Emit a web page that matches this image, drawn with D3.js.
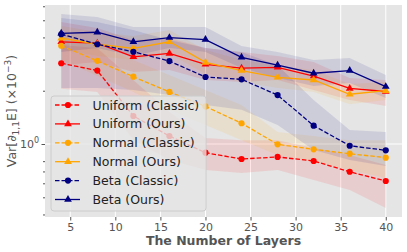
<!DOCTYPE html>
<html><head><meta charset="utf-8">
<script src="https://cdn.jsdelivr.net/npm/d3@7"></script>
<style>body{margin:0;background:#fff}svg{display:block}text{font-family:"DejaVu Sans",sans-serif}</style>
</head><body>
<script>
const layers = [4, 8, 12, 16, 20, 24, 28, 32, 36, 40];
const xTicks = [5, 10, 15, 20, 25, 30, 35, 40];
const uniformClassic = [2.86, 2.60, 1.44, 1.11, 0.893, 0.823, 0.845, 0.802, 0.697, 0.618];
const uniformClassicLo = [2.05, 1.97, 1.05, 0.812, 0.713, 0.686, 0.713, 0.626, 0.550, 0.435];
const uniformClassicHi = [3.63, 3.49, 2.30, 1.52, 1.08, 1.05, 1.05, 0.949, 0.867, 0.761];
const uniformOurs = [3.78, 3.71, 3.11, 3.25, 2.82, 2.68, 2.71, 2.42, 2.06, 1.98];
const uniformOursLo = [2.79, 2.91, 2.55, 2.62, 2.30, 2.24, 2.30, 2.02, 1.77, 1.64];
const uniformOursHi = [4.89, 4.52, 3.87, 3.97, 3.49, 3.31, 3.14, 2.91, 2.36, 2.30];
const normalClassic = [3.59, 2.95, 2.40, 1.97, 1.63, 1.31, 0.996, 0.933, 0.882, 0.837];
const normalClassicLo = [2.98, 2.42, 1.97, 1.56, 1.28, 1.05, 0.867, 0.791, 0.713, 0.642];
const normalClassicHi = [4.29, 3.63, 2.98, 2.45, 2.02, 1.66, 1.17, 1.11, 1.05, 1.05];
const normalOurs = [3.96, 3.66, 3.47, 3.78, 2.89, 2.60, 2.38, 2.30, 1.91, 2.00];
const normalOursLo = [3.40, 3.14, 2.98, 3.22, 2.49, 2.24, 2.07, 1.97, 1.68, 1.77];
const normalOursHi = [4.64, 4.29, 4.08, 4.41, 3.40, 2.98, 2.76, 2.62, 2.18, 2.24];
const betaClassic = [4.17, 3.66, 3.32, 2.94, 2.39, 2.32, 1.89, 1.27, 0.978, 0.921];
const betaClassicLo = [2.07, 2.07, 2.02, 1.89, 1.66, 1.56, 1.28, 0.925, 0.812, 0.751];
const betaClassicHi = [5.15, 4.89, 4.41, 3.87, 3.49, 3.31, 2.79, 1.77, 1.20, 1.17];
const betaOurs = [4.22, 4.28, 3.78, 3.99, 3.89, 3.09, 2.79, 2.51, 2.60, 2.11];
const betaOursLo = [3.31, 3.49, 3.14, 3.49, 3.31, 2.69, 2.36, 2.13, 2.21, 1.82];
const betaOursHi = [5.42, 5.22, 4.58, 4.58, 4.58, 3.58, 3.31, 2.98, 3.06, 2.45];
const seriesNames = ["Uniform (Classic)", "Uniform (Ours)", "Normal (Classic)", "Normal (Ours)", "Beta (Classic)", "Beta (Ours)"];
const seriesColors = ["#ff0000", "#ff0000", "#ffa500", "#ffa500", "#000080", "#000080"];
const seriesDashed = [true, false, true, false, true, false];
const seriesVals = [uniformClassic, uniformOurs, normalClassic, normalOurs, betaClassic, betaOurs];
const seriesLo = [uniformClassicLo, uniformOursLo, normalClassicLo, normalOursLo, betaClassicLo, betaOursLo];
const seriesHi = [uniformClassicHi, uniformOursHi, normalClassicHi, normalOursHi, betaClassicHi, betaOursHi];
const yMinorTicks = [0.4, 0.5, 0.6, 0.7, 0.8, 2, 3, 4, 5, 6];

const W = 407, H = 252;
const L = 45, R = 402, T = 5, B = 217;
const svg = d3.select("body").append("svg").attr("width", W).attr("height", H);
const x = d3.scaleLinear().domain([2.2, 41.8]).range([L, R]);
const y = d3.scaleLog().domain([0.387, 6.099]).range([B, T]);

svg.append("rect").attr("x", L).attr("y", T).attr("width", R - L).attr("height", B - T).attr("fill", "#e5e5e5");

const clip = svg.append("clipPath").attr("id", "clip").append("rect").attr("x", L).attr("y", T).attr("width", R - L).attr("height", B - T);

// grid
const grid = svg.append("g");
grid.selectAll(".vg").data(xTicks).enter().append("line")
  .attr("x1", d => x(d)).attr("x2", d => x(d)).attr("y1", T).attr("y2", B)
  .attr("stroke", "#fff").attr("stroke-width", 1);
grid.append("line").attr("x1", L).attr("x2", R).attr("y1", y(1)).attr("y2", y(1)).attr("stroke", "#fff").attr("stroke-width", 1);

// axes
const xAxis = d3.axisBottom(x).tickValues(xTicks).tickSize(3.5).tickPadding(3).tickFormat(d3.format("d"));
const gx = svg.append("g").attr("transform", `translate(0,${B})`).call(xAxis);
gx.select(".domain").remove();
gx.selectAll("line").attr("stroke", "#555");
gx.selectAll("text").attr("fill", "#555").attr("font-size", 11);

const yAxis = d3.axisLeft(y).tickValues([1]).tickSize(3.5).tickPadding(3).tickFormat(() => "");
const gy = svg.append("g").attr("transform", `translate(${L},0)`).call(yAxis);
gy.select(".domain").remove();
gy.selectAll("line").attr("stroke", "#555");
const yMinor = d3.axisLeft(y).tickValues(yMinorTicks).tickSize(2).tickFormat(() => "");
const gym = svg.append("g").attr("transform", `translate(${L},0)`).call(yMinor);
gym.select(".domain").remove();
gym.selectAll("line").attr("stroke", "#555");
const t0 = svg.append("text").attr("x", L - 6).attr("y", y(1) + 4).attr("text-anchor", "end").attr("fill", "#555").attr("font-size", 11);
t0.append("tspan").text("10");
t0.append("tspan").attr("dy", -5).attr("font-size", 8).text("0");

// bands & lines
const plot = svg.append("g").attr("clip-path", "url(#clip)");
const sym = d3.symbol();
seriesVals.forEach((vals, i) => {
  const c = seriesColors[i];
  const area = d3.area().x((d, j) => x(layers[j])).y0((d, j) => y(seriesLo[i][j])).y1((d, j) => y(seriesHi[i][j]));
  plot.append("path").datum(vals).attr("d", area).attr("fill", c).attr("fill-opacity", 0.1);
});
seriesVals.forEach((vals, i) => {
  const c = seriesColors[i];
  const line = d3.line().x((d, j) => x(layers[j])).y(d => y(d));
  plot.append("path").datum(vals).attr("d", line).attr("fill", "none").attr("stroke", c)
    .attr("stroke-width", 1.3).attr("stroke-dasharray", seriesDashed[i] ? "4.5,2" : null);
  plot.selectAll(null).data(vals).enter().append("path")
    .attr("transform", (d, j) => `translate(${x(layers[j])},${y(d)})`)
    .attr("d", seriesDashed[i] ? sym.type(d3.symbolCircle).size(30)() : sym.type(d3.symbolTriangle).size(26)())
    .attr("fill", c);
});

// legend
const lg = svg.append("g");
lg.append("rect").attr("x", 51).attr("y", 96).attr("width", 155).attr("height", 115).attr("rx", 3)
  .attr("fill", "#e5e5e5").attr("fill-opacity", 0.8).attr("stroke", "#cccccc").attr("stroke-width", 1);
seriesNames.forEach((name, i) => {
  const yy = 105 + i * 18.9;
  const c = seriesColors[i];
  lg.append("line").attr("x1", 55).attr("x2", 80).attr("y1", yy).attr("y2", yy).attr("stroke", c)
    .attr("stroke-width", 1.3).attr("stroke-dasharray", seriesDashed[i] ? "4.5,2" : null);
  lg.append("path").attr("transform", `translate(68,${yy})`)
    .attr("d", seriesDashed[i] ? sym.type(d3.symbolCircle).size(30)() : sym.type(d3.symbolTriangle).size(26)())
    .attr("fill", c);
  lg.append("text").attr("x", 92.5).attr("y", yy + 4.5).attr("font-size", 12.5).attr("fill", "#222").text(name);
});

// axis labels
svg.append("text").attr("x", (L + R) / 2).attr("y", 245).attr("text-anchor", "middle")
  .attr("font-size", 12.5).attr("font-weight", "bold").attr("fill", "#555").text("The Number of Layers");
const yl = svg.append("text").attr("transform", `translate(16,${(T + B) / 2}) rotate(-90)`).attr("text-anchor", "middle")
  .attr("font-size", 12.5).attr("fill", "#555");
yl.append("tspan").text("Var[∂");
yl.append("tspan").attr("dy", 3).attr("font-size", 9).text("1,1");
yl.append("tspan").attr("dy", -3).text("E] (×10");
yl.append("tspan").attr("dy", -5).attr("font-size", 9).text("−3");
yl.append("tspan").attr("dy", 5).text(")");
</script>
</body></html>
